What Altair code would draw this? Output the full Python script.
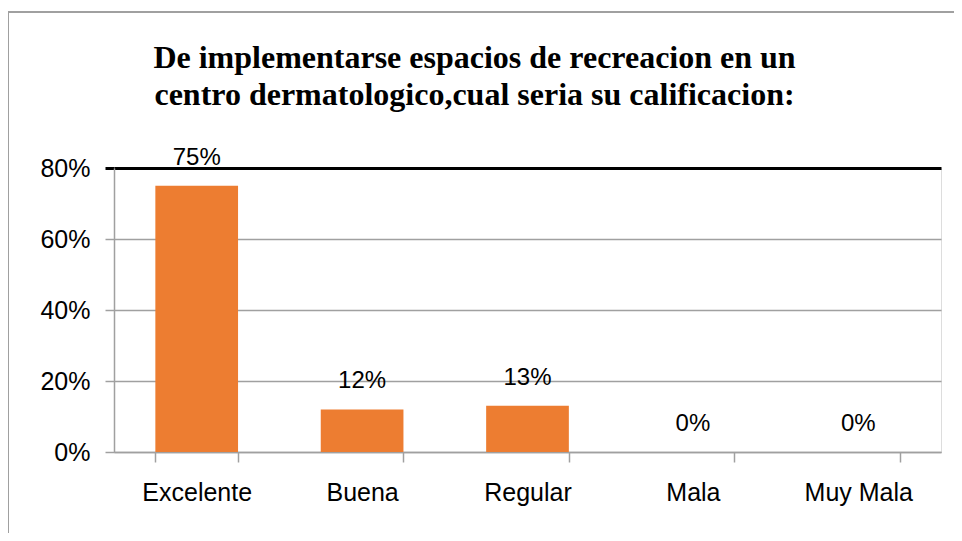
import altair as alt
import pandas as pd

categories = ["Excelente", "Buena", "Regular", "Mala", "Muy Mala"]
values = [0.75, 0.12, 0.13, 0.0, 0.0]
title_lines = ["De implementarse espacios de recreacion en un",
               "centro dermatologico,cual seria su calificacion:"]

df = pd.DataFrame({"cat": categories, "val": values})

GRID = "#a0a0a0"
FONT = "Liberation Sans"

x = alt.X("cat:N", sort=categories, title=None,
          scale=alt.Scale(paddingInner=0.5, paddingOuter=0.25),
          axis=alt.Axis(labelAngle=0, labelFont=FONT, labelFontSize=25,
                        labelColor="#000000", labelPadding=18, tickSize=10,
                        tickColor=GRID, domainColor=GRID, tickBand="extent",
                        domainWidth=1.5, tickWidth=1.5))

y = alt.Y("val:Q", title=None,
          scale=alt.Scale(domain=[0, 0.8], nice=False),
          axis=alt.Axis(format=".0%", values=[0, 0.2, 0.4, 0.6, 0.8],
                        labelFont=FONT, labelFontSize=25, labelColor="#000000",
                        labelPadding=15, tickSize=9, domainColor=GRID,
                        domainWidth=1.5,
                        tickColor=alt.condition("datum.value >= 0.79", alt.value("#000000"), alt.value(GRID)),
                        tickWidth=alt.condition("datum.value >= 0.79", alt.value(3), alt.value(1.5)),
                        gridColor=alt.condition("datum.value >= 0.79", alt.value("#000000"), alt.value(GRID)),
                        gridWidth=alt.condition("datum.value >= 0.79", alt.value(3), alt.value(1.5))))

bars = alt.Chart(df).mark_bar(color="#ED7D31").encode(x=x, y=y)

labels = alt.Chart(df).mark_text(font=FONT, fontSize=24, color="#000000",
                                 baseline="bottom", dy=-16).encode(
    x=alt.X("cat:N", sort=categories),
    y=alt.Y("val:Q"),
    text=alt.Text("val:Q", format=".0%"))

frame_left = alt.Chart(df).mark_rule(color=GRID, strokeWidth=1.5).encode(
    x=alt.value(-106), y=alt.value(-156), y2=alt.value(400))
frame_top = alt.Chart(df).mark_rule(color=GRID, strokeWidth=1.5).encode(
    x=alt.value(-106), x2=alt.value(860), y=alt.value(-156))

chart = alt.layer(bars, labels, frame_left, frame_top).properties(
    width=827, height=284,
    padding={"left": 106, "top": 160, "right": 13, "bottom": 81},
    autosize=alt.AutoSizeParams(type="none"),
    title=alt.TitleParams(text=title_lines, font="Liberation Serif", fontSize=32,
                          fontWeight="bold", color="#000000", lineHeight=37,
                          anchor="middle", dx=-53, offset=-101),
).configure_view(stroke=None).configure(background="white")

chart.save("out.html", embed_options={"renderer": "svg", "actions": False})
